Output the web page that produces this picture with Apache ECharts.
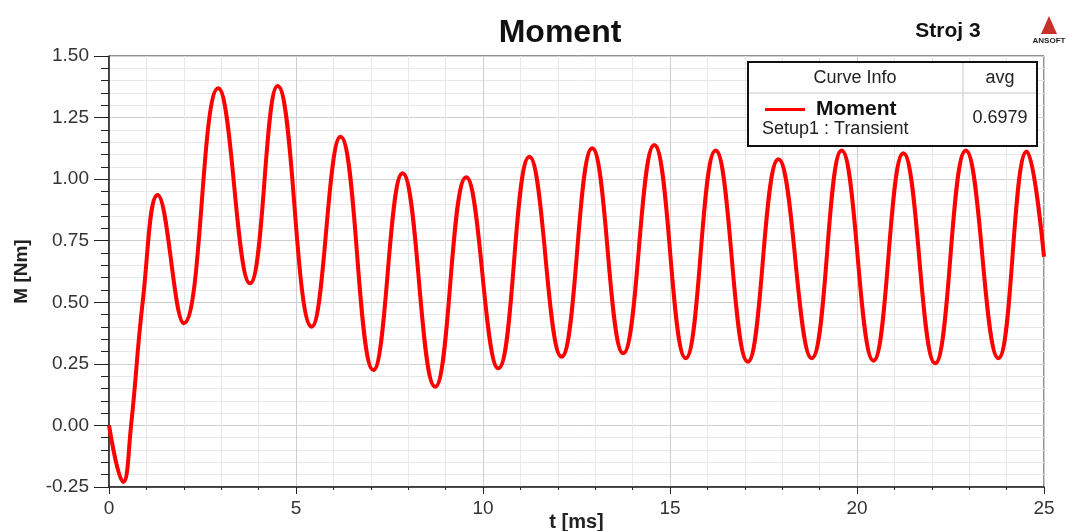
<!DOCTYPE html>
<html>
<head>
<meta charset="utf-8">
<script src="https://cdn.jsdelivr.net/npm/echarts@6/dist/echarts.min.js"></script>
<style>
  html, body { margin: 0; padding: 0; background: #fff; }
  #chart { width: 1069px; height: 531px; }
</style>
</head>
<body>
<div id="chart"></div>
<script>
// values (turning points of the torque curve)
var timeMs = [0, 0.38, 0.59, 0.9, 1.3, 2.0, 2.92, 3.77, 4.51, 5.42, 6.19, 7.07, 7.85, 8.72,
  9.55, 10.41, 11.24, 12.10, 12.92, 13.75, 14.58, 15.42, 16.22, 17.08, 17.9, 18.79,
  19.59, 20.44, 21.24, 22.09, 22.91, 23.78, 24.54, 25];
var momentNm = [0, -0.23, 0.0, 0.5, 0.936, 0.415, 1.369, 0.577, 1.378, 0.401, 1.172, 0.225,
  1.024, 0.157, 1.008, 0.232, 1.091, 0.279, 1.125, 0.293, 1.139, 0.273, 1.116, 0.259,
  1.081, 0.273, 1.116, 0.263, 1.105, 0.252, 1.116, 0.273, 1.112, 0.685];
var seriesName = 'Moment';
var setupName = 'Setup1 : Transient';
var avgValue = '0.6979';

var pts = [];
for (var i = 0; i < timeMs.length; ++i) {
  pts.push([timeMs[i], momentNm[i]]);
}

var font = 'Liberation Sans, Arial, sans-serif';
var chart = echarts.init(document.getElementById('chart'));

var option = {
  backgroundColor: '#fff',
  animation: false,
  title: {
    text: 'Moment',
    left: 555, top: 12, textAlign: 'center',
    textStyle: { fontFamily: font, fontSize: 32, fontWeight: 'bold', color: '#111' }
  },
  grid: {
    left: 109, right: 25, top: 56, bottom: 44,
    outerBoundsMode: 'none',
    show: true, borderColor: '#222', borderWidth: 1
  },
  legend: {
    data: [seriesName],
    left: 760, top: 94, z: 20,
    icon: 'rect', itemWidth: 40, itemHeight: 3, itemGap: 0,
    textStyle: { fontFamily: font, fontSize: 21, fontWeight: 'bold', color: '#111', padding: [0, 0, 0, 6] }
  },
  xAxis: {
    type: 'value', min: 0, max: 25, interval: 5,
    name: 't [ms]', nameLocation: 'middle', nameGap: 25, nameMoveOverlap: false,
    nameTextStyle: { fontFamily: font, fontSize: 20, fontWeight: 'bold', color: '#222' },
    axisLine: { onZero: false, lineStyle: { color: '#222', width: 1.5 } },
    axisTick: { show: true, length: 7, lineStyle: { color: '#222' } },
    minorTick: { show: true, splitNumber: 5, length: 3, lineStyle: { color: '#222' } },
    axisLabel: { margin: 12, fontFamily: font, fontSize: 19, color: '#333' },
    splitLine: { show: true, lineStyle: { color: '#cfcfcf', width: 1 } },
    minorSplitLine: { show: true, lineStyle: { color: '#e8e8e8', width: 1 } }
  },
  yAxis: {
    type: 'value', min: -0.25, max: 1.5, interval: 0.25,
    name: 'M [Nm]', nameLocation: 'middle', nameGap: 78, nameRotate: 90, nameMoveOverlap: false,
    nameTextStyle: { fontFamily: font, fontSize: 19, fontWeight: 'bold', color: '#222' },
    axisLine: { show: true, onZero: false, lineStyle: { color: '#222', width: 1.5 } },
    axisTick: { show: true, length: 15, lineStyle: { color: '#222' } },
    minorTick: { show: true, splitNumber: 5, length: 8, lineStyle: { color: '#222' } },
    axisLabel: {
      margin: 20, fontFamily: font, fontSize: 19, color: '#333',
      formatter: function (v) { return v.toFixed(2); }
    },
    splitLine: { show: true, lineStyle: { color: '#cfcfcf', width: 1 } },
    minorSplitLine: { show: true, lineStyle: { color: '#e8e8e8', width: 1 } }
  },
  series: [
    {
      name: seriesName,
      type: 'line',
      data: pts,
      smooth: 0.45,
      symbol: 'none',
      lineStyle: { color: '#ff0000', width: 4 },
      itemStyle: { color: '#ff0000' },
      z: 5
    }
  ],
  graphic: [
    // curve info box
    { type: 'rect', shape: { x: 748, y: 62, width: 289, height: 84 },
      style: { fill: '#fff', stroke: '#111', lineWidth: 2 }, z: 10 },
    { type: 'line', shape: { x1: 749, y1: 93, x2: 1036, y2: 93 },
      style: { stroke: '#c8c8c8', lineWidth: 1 }, z: 11 },
    { type: 'line', shape: { x1: 963, y1: 63, x2: 963, y2: 145 },
      style: { stroke: '#c8c8c8', lineWidth: 1 }, z: 11 },
    { type: 'text', x: 855, y: 78, z: 11,
      style: { text: 'Curve Info', fontFamily: font, fontSize: 18, fill: '#222', align: 'center', verticalAlign: 'middle' } },
    { type: 'text', x: 1000, y: 78, z: 11,
      style: { text: 'avg', fontFamily: font, fontSize: 18, fill: '#222', align: 'center', verticalAlign: 'middle' } },
    { type: 'text', x: 762, y: 129, z: 11,
      style: { text: setupName, fontFamily: font, fontSize: 18, fill: '#222', align: 'left', verticalAlign: 'middle' } },
    { type: 'text', x: 1000, y: 118, z: 11,
      style: { text: avgValue, fontFamily: font, fontSize: 18, fill: '#222', align: 'center', verticalAlign: 'middle' } },
    // header on the right
    { type: 'text', x: 948, y: 31, z: 11,
      style: { text: 'Stroj 3', fontFamily: font, fontSize: 21, fontWeight: 'bold', fill: '#111', align: 'center', verticalAlign: 'middle' } },
    { type: 'polygon', shape: { points: [[1049, 16], [1041, 34], [1057, 34]] },
      style: { fill: '#c8302a' }, z: 11 },
    { type: 'text', x: 1049, y: 41, z: 11,
      style: { text: 'ANSOFT', fontFamily: font, fontSize: 8, fontWeight: 'bold', fill: '#222', align: 'center', verticalAlign: 'middle' } }
  ]
};

chart.setOption(option);
</script>
</body>
</html>
